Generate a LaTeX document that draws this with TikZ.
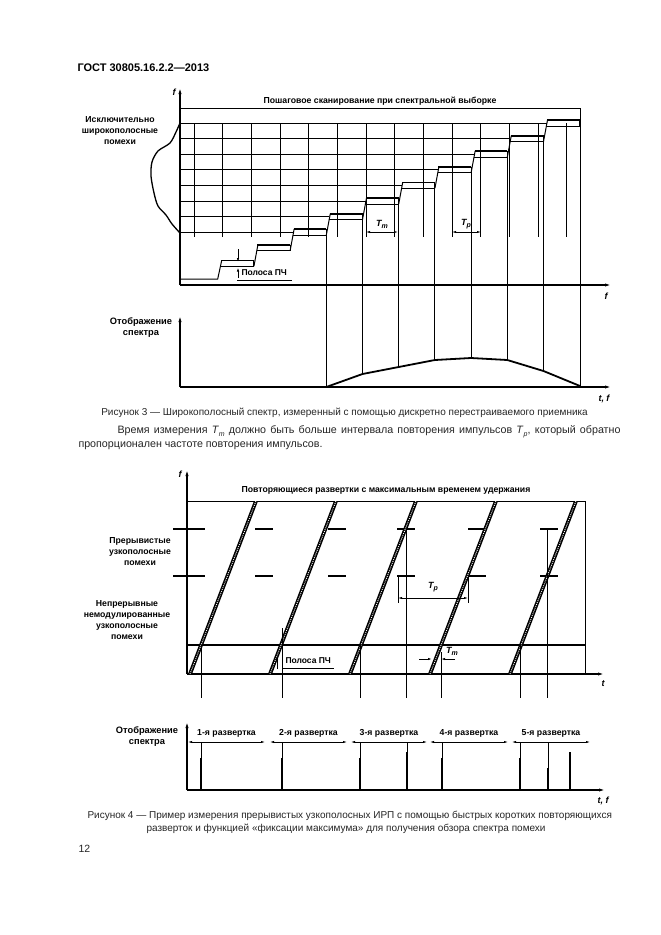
\documentclass[tikz,border=0pt]{standalone}
\usepackage{fontspec}
\setmainfont{Liberation Sans}
\usetikzlibrary{arrows.meta}
\tikzset{
  axis/.style={line width=1.1pt,-{Latex[length=6pt,width=3.2pt]}},
  dimline/.style={line width=0.6pt,{Latex[length=4pt,width=2.2pt]}-{Latex[length=4pt,width=2.2pt]}},
  tip/.style={line width=0.8pt,-{Latex[length=4pt,width=2.4pt]}},
  lbl/.style={font=\fontsize{8.7}{11}\selectfont\bfseries,align=center,inner sep=0pt},
  axlbl/.style={font=\fontsize{9}{10}\selectfont\bfseries\itshape,inner sep=0pt},
  body/.style={font=\fontsize{10}{12}\selectfont,inner sep=0pt,text=black!85},
  band/.style={line width=1.8pt},
  sweep/.style={line width=3.8pt},
  sweepdots/.style={white,line width=0.9pt,dash pattern=on 0.9pt off 1.1pt},
}
\newcommand{\idx}[2]{\textit{#1}\raisebox{-0.45ex}{\scriptsize\itshape #2}}
\begin{document}
\begin{tikzpicture}[x=1pt,y=-1pt,line width=1pt]
\useasboundingbox[fill=white] (0,0) rectangle (661,935);
\node[anchor=west,font=\fontsize{11}{12}\selectfont\bfseries,inner sep=0pt] (gost) at (77,68) {ГОСТ 30805.16.2.2—2013};

% ---------- Рисунок 3 ----------
\draw[axis] (180,285) -- (180,88);
\node[axlbl] (f3) at (174,92) {f};
\draw[axis] (180,285) -- (611,285);
\node[axlbl] (t3) at (606,296) {f};
\node[lbl] (title3) at (380,101) {Пошаговое сканирование при спектральной выборке};
\draw (180,108) -- (580,108) -- (580,387);
\node[lbl] (wide) at (120,131) {Исключительно\\широкополосные\\помехи};
\draw[line width=1.3pt] plot[smooth] coordinates {(180,123) (176,132) (170,143) (158,151) (152,162) (151,176) (154,193) (158,206) (166,215) (172,224) (180,233)};
% сетка
\foreach \j in {0,...,13}
  \draw ({194+28.69*\j},123) -- ({194+28.69*\j},237);
\foreach \k in {4,...,11}
  \draw ({180},{279-15.6*(\k-1)}) -- ({181.5+36.2*(\k-1)+3},{279-15.6*(\k-1)});
% ступени
\draw (180,279) -- (217.7,279) -- (221.7,{263.4-3});
\foreach \k in {2,...,11}{
  \pgfmathsetmacro{\xa}{181.5+36.2*(\k-1)}
  \pgfmathsetmacro{\xb}{181.5+36.2*\k}
  \pgfmathsetmacro{\ya}{279-15.6*(\k-1)}
  \draw[band] (\xa+3.5,\ya-3) -- (\xb,\ya-3);
  \draw (\xa+2.9,\ya+3) -- (\xb,\ya+3) -- (\xb,\ya-3);
  \ifnum\k<11
    \draw (\xb,\ya+3) -- (\xb+4,\ya-15.6-3);
  \fi
}
% отсчеты на нижний график
\foreach \k/\yc in {4/387,5/374,6/367,7/360,8/358,9/360,10/371}
  \draw ({181.5+36.2*\k},{279-15.6*(\k-1)-3}) -- ({181.5+36.2*\k},\yc);
\draw[dimline] (366,232) -- (398,232);
\node[axlbl] (tm3) at (382,224) {\idx{T}{m}};
\draw[dimline] (452,232) -- (481,232);
\node[axlbl] (tp3) at (466,224) {\idx{T}{p}};
% полоса ПЧ
\draw[tip] (238,249) -- (238,262);
\draw[tip] (238,278) -- (238,267.5);
\node[lbl,anchor=west,font=\fontsize{8.5}{9}\selectfont\bfseries] (if3) at (241,273) {Полоса ПЧ};
\draw[line width=1.6pt] (237,280.5) -- (292,280.5);
% отображение
\draw[axis] (180,387) -- (180,316);
\draw[axis] (180,387) -- (611,387);
\node[axlbl] (tf3) at (604,399) {t, f};
\node[lbl,font=\fontsize{9.3}{11}\selectfont\bfseries] (disp3) at (141,328) {Отображение\\спектра};
\draw[line width=1.8pt] (326.3,387) -- (362.5,374) -- (398.7,367) -- (434.9,360) -- (471.1,358) -- (507.3,360) -- (543.5,371) -- (580,386);

\node[body] (cap3) at (344.5,413) {Рисунок 3 — Широкополосный спектр, измеренный с помощью дискретно перестраиваемого приемника};
\node[body,anchor=west,font=\fontsize{10.7}{12}\selectfont] (par1) at (117,432) {\makebox[503pt][s]{Время измерения \idx{T}{m} должно быть больше интервала повторения импульсов \idx{T}{p}, который обратно}};
\node[body,anchor=west,font=\fontsize{10.7}{12}\selectfont] (par2) at (78,446) {пропорционален частоте повторения импульсов.};

% ---------- Рисунок 4 ----------
\draw[axis] (187,674) -- (187,470);
\node[axlbl] (f4) at (180,474) {f};
\draw[axis] (187,674) -- (604,674);
\node[axlbl] (t4) at (603,684) {t};
\node[lbl] (title4) at (386,490) {Повторяющиеся развертки с максимальным временем удержания};
\draw (187,501) -- (585,501) -- (585,674);
\draw[line width=2pt] (187,645) -- (585,645);
\foreach \y in {529,576}
  \foreach \a/\b in {173/205,255/273,328/346,397/415,468/486,540/558}
    \draw[line width=1.8pt] (\a,\y) -- (\b,\y);
\begin{scope}
  \clip (187,501) rectangle (585,674);
  \foreach \j in {0,...,4}{
    \draw[sweep] ({190+80*\j},674) -- ({256+80*\j},501);
    \draw[sweepdots] ({190+80*\j},674) -- ({256+80*\j},501);
  }
\end{scope}
\node[lbl] (pulse) at (140,552) {Прерывистые\\узкополосные\\помехи};
\node[lbl] (cw) at (127,620) {Непрерывные\\немодулированные\\узкополосные\\помехи};
% отсчеты
\foreach \x/\y in {201/645,282/628,360/645,406/529,441/652,520/645,547/529}
  \draw (\x,\y) -- (\x,698);
\draw (398,576) -- (398,603);
\draw (468,576) -- (468,603);
\draw[dimline] (398,598) -- (468,598);
\node[axlbl] (tp4) at (433,587) {\idx{T}{p}};
\draw[tip] (419,659) -- (432,659);
\draw[tip] (455,659) -- (441,659);
\node[axlbl] (tm4) at (452,651) {\idx{T}{m}};
% полоса ПЧ
\draw[tip] (277,669) -- (277,656);
\node[lbl,anchor=west,font=\fontsize{8.5}{9}\selectfont\bfseries] (if4) at (285,661) {Полоса ПЧ};
\draw[line width=1.6pt] (283,668.5) -- (334,668.5);
% отображение
\draw[axis] (187,790) -- (187,722);
\draw[axis] (187,790) -- (605,790);
\node[axlbl] (tf4) at (603,801) {t, f};
\node[lbl,font=\fontsize{9.3}{11}\selectfont\bfseries] (disp4) at (147,737) {Отображение\\спектра};
\foreach \a/\b/\n in {188/265/1,270/347/2,351/427/3,430/508/4,512/590/5}{
  \draw[dimline] (\a,742) -- (\b,742);
  \node[lbl] (sw\n) at ({(\a+\b)/2},733) {\n-я развертка};
}
\foreach \x/\h in {201/758,282/758,360/758,407/752,442/758,520/758,548/768}{
  \draw (\x,742) -- (\x,790);
  \draw[line width=2pt] (\x,\h) -- (\x,790);
}
\draw[line width=2pt] (570,752) -- (570,790);

\node[body,anchor=west] (cap4a) at (87,816) {Рисунок 4 — Пример измерения прерывистых узкополосных ИРП с помощью быстрых коротких повторяющихся};
\node[body,anchor=west] (cap4b) at (146,829) {разверток и функцией «фиксации максимума» для получения обзора спектра помехи};
\node[body,anchor=west,font=\fontsize{10.5}{12}\selectfont] (page) at (78,849) {12};
\end{tikzpicture}
\end{document}
